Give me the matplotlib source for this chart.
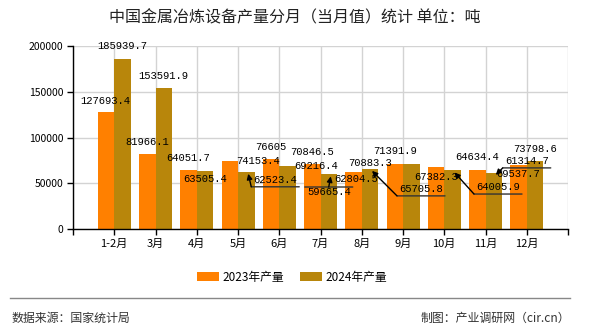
import matplotlib
matplotlib.use('Agg')
import matplotlib.pyplot as plt
from matplotlib.patches import Patch
from matplotlib.lines import Line2D
import numpy as np

# data (unit: tonne)
months = ['1-2月', '3月', '4月', '5月', '6月', '7月', '8月', '9月', '10月', '11月', '12月']
prod_2023 = [127693.4, 81966.1, 64051.7, 74153.4, 76605, 70846.5,
             62804.5, 71391.9, 67382.3, 64634.4, 69537.7]
prod_2024 = [185939.7, 153591.9, 63505.4, 62523.4, 69216.4, 59665.4,
             65705.8, 70883.3, 64005.9, 61314.7, 73798.6]
series_names = ['2023年产量', '2024年产量']

# label placement: pixel offsets of the label centre from the bar top
off_2023 = [(-1, 11), (0, 12), (0, 12), (28, 0), (0, 12), (0, 12),
            (2.5, -7.5), (0, 12.7), (0, -10), (0, 13), (0, -8.6)]
off_2024 = [(0, 13), (0, 12.5), (0, -8), (29, -8), (28.5, 0), (0, -17.6),
            (51, -20), (-41, 1), (45.5, -16.6), (33, 12), (0, 12.5)]
# labels with leader lines: index -> underline height relative to label centre
leaders_2024 = {3: -7, 5: 5, 6: -7, 8: -7, 9: -7}

c_2023 = '#FF8000'
c_2024 = '#B8860B'

plt.rcParams['font.family'] = ['Noto Sans CJK SC', 'DejaVu Sans']

fig = plt.figure(figsize=(5.9, 3.3), dpi=100)
fig.patch.set_facecolor('white')
ax = fig.add_axes([73 / 590, 101 / 330, 495 / 590, 183 / 330])

x = np.arange(len(months))
w = 0.4
ax.bar(x - w / 2, prod_2023, w, color=c_2023, zorder=2)
ax.bar(x + w / 2, prod_2024, w, color=c_2024, zorder=2)

ax.set_xlim(-1, 11)
ax.set_ylim(0, 200000)
yt = np.arange(0, 200001, 50000)
ax.set_yticks(yt)
ax.set_yticklabels([str(int(v)) for v in yt], fontsize=7.5)
ax.set_xticks(np.arange(-1, 12))
ax.set_xticklabels([''] + months + [''], fontsize=8)
ax.tick_params(axis='both', direction='out', length=4, width=1, color='black', pad=3)
ax.grid(True, color='#d3d3d3', lw=1)
ax.set_axisbelow(True)
for s in ['top', 'right']:
    ax.spines[s].set_visible(False)
for s in ['left', 'bottom']:
    ax.spines[s].set_color('black')
    ax.spines[s].set_linewidth(1)


def fmt(v):
    s = f'{v:.1f}'
    if s.endswith('.0'):
        s = s[:-2]
    return s


def put_labels(xs, vals, offs, leaders=None):
    leaders = leaders or {}
    for i, (xi, v, (dx, dy)) in enumerate(zip(xs, vals, offs)):
        ax.annotate(fmt(v), xy=(xi, v), xytext=(dx, dy), textcoords='offset pixels',
                    ha='center', va='center', fontsize=7.6, family='Liberation Mono',
                    color='black', zorder=5)
        if i in leaders:
            px, py = ax.transData.transform((xi, v))
            tx, ty = px + dx, py + dy
            uy = ty + leaders[i]
            ax.annotate('', xy=(tx + 24, uy), xytext=(tx - 24, uy),
                        xycoords='figure pixels',
                        arrowprops=dict(arrowstyle='-', lw=1, color='#333333',
                                        shrinkA=0, shrinkB=0))
            start = (tx, uy) if abs(dx) < 5 else (tx - 24, uy)
            ax.annotate('', xy=(px + 2, py - 2), xytext=start,
                        xycoords='figure pixels',
                        arrowprops=dict(arrowstyle='-|>', lw=1, color='black',
                                        mutation_scale=8, shrinkA=0, shrinkB=0))


put_labels(x - w / 2, prod_2023, off_2023)
put_labels(x + w / 2, prod_2024, off_2024, leaders_2024)

fig.text(0.5, 1 - 18 / 330, '中国金属冶炼设备产量分月（当月值）统计 单位：吨',
         ha='center', va='center', fontsize=11.5, color='#222222')

handles = [Patch(facecolor=c_2023), Patch(facecolor=c_2024)]
fig.legend(handles, series_names, loc='center', bbox_to_anchor=(292 / 590, 1 - 277 / 330),
           ncol=2, frameon=False, fontsize=8.5, handlelength=1.85, handleheight=0.75,
           handletextpad=0.35, columnspacing=1.3)

fig.add_artist(Line2D([10 / 590, 570 / 590], [1 - 298 / 330] * 2,
                      transform=fig.transFigure, color='#888888', lw=1))
fig.text(12 / 590, 1 - 318 / 330, '数据来源：国家统计局', ha='left', va='center',
         fontsize=8.6, color='#333333')
fig.text(570 / 590, 1 - 318 / 330, '制图：产业调研网（cir.cn）', ha='right', va='center',
         fontsize=8.6, color='#333333')

fig.savefig('out.png', dpi=100)
